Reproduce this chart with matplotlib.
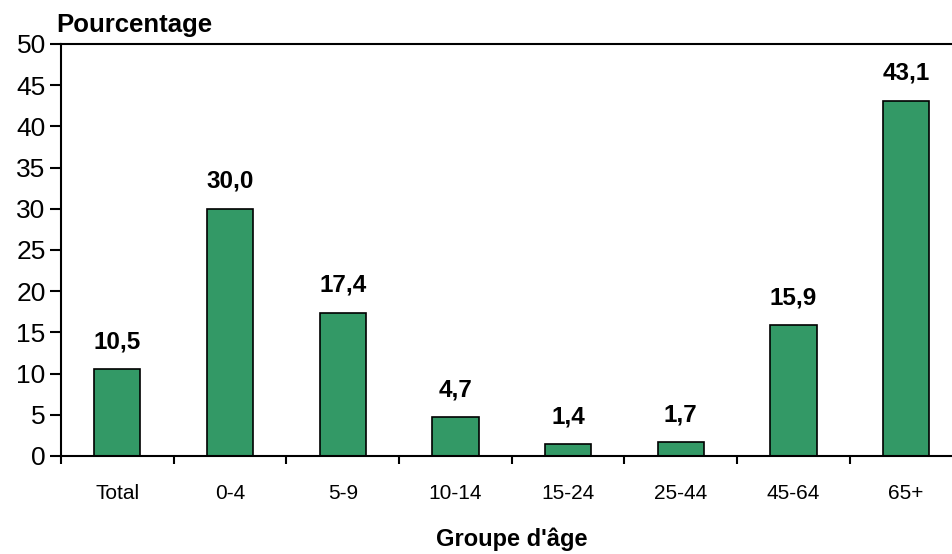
import matplotlib.pyplot as plt
from matplotlib.ticker import MultipleLocator, FixedLocator

# data
groups = ['Total', '0-4', '5-9', '10-14', '15-24', '25-44', '45-64', '65+']
values = [10.5, 30.0, 17.4, 4.7, 1.4, 1.7, 15.9, 43.1]
labels = ['10,5', '30,0', '17,4', '4,7', '1,4', '1,7', '15,9', '43,1']

plt.rcParams['font.family'] = ['Liberation Sans', 'DejaVu Sans']

fig = plt.figure(figsize=(9.53, 5.54), dpi=100)
ax = fig.add_axes([0.064, 0.177, 0.946, 0.7437])

x = list(range(len(groups)))
bars = ax.bar(x, values, width=0.41, color='#339966', edgecolor='black', linewidth=1.2)

for b, lab in zip(bars, labels):
    ax.annotate(lab, (b.get_x() + b.get_width() / 2, b.get_height()),
                xytext=(0, 15), textcoords='offset points',
                ha='center', va='baseline', fontsize=17.5, fontweight='bold')

ax.set_xlim(-0.5, len(groups) - 0.5)
ax.set_ylim(0, 50)
ax.yaxis.set_major_locator(MultipleLocator(5))
ax.set_xticks(x)
ax.set_xticklabels(groups, fontsize=15)
ax.xaxis.set_minor_locator(FixedLocator([i - 0.5 for i in range(len(groups) + 1)]))
ax.tick_params(axis='x', which='major', length=0, pad=20)
ax.tick_params(axis='x', which='minor', length=6, width=1.5, direction='out')
ax.tick_params(axis='y', labelsize=19, length=8, width=1.5, direction='out', pad=3)

for s in ax.spines.values():
    s.set_linewidth(1.5)

ax.set_xlabel("Groupe d'âge", fontsize=17, fontweight='bold', labelpad=18)
fig.text(0.059, 0.942, 'Pourcentage', fontsize=18.5, fontweight='bold', ha='left', va='baseline')

fig.savefig('out.png', dpi=100)
